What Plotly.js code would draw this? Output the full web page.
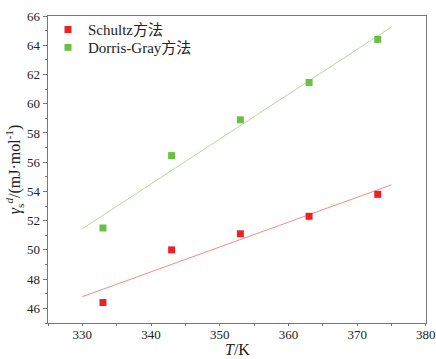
<!DOCTYPE html>
<html>
<head>
<meta charset="utf-8">
<script src="https://cdn.plot.ly/plotly-3.0.1.min.js"></script>
<style>html,body{margin:0;padding:0;background:#fff;}#chart{width:436px;height:359px;}</style>
</head>
<body>
<div id="chart"></div>
<script>
var temps = [333, 343, 353, 363, 373];
var schultz = [46.4, 50.0, 51.1, 52.3, 53.8];
var dorrisGray = [51.5, 56.45, 58.9, 61.45, 64.4];
var fitX = [330, 375];
var schultzFit = [46.8, 54.45];
var dorrisFit = [51.45, 65.25];
var seriesNames = ['Schultz方法', 'Dorris-Gray方法'];
var xTicks = [330, 340, 350, 360, 370, 380];
var yTicks = [46, 48, 50, 52, 54, 56, 58, 60, 62, 64, 66];

var fontFam = '"Liberation Serif", "Times New Roman", "Noto Sans CJK SC", serif';
var red = '#ee2024';
var green = '#6abf45';

var data = [
  {x: fitX, y: schultzFit, mode: 'lines', line: {color: '#f38b8b', width: 1}, showlegend: false, hoverinfo: 'skip'},
  {x: fitX, y: dorrisFit, mode: 'lines', line: {color: '#b5dc9c', width: 1}, showlegend: false, hoverinfo: 'skip'},
  {x: temps, y: schultz, mode: 'markers', name: seriesNames[0], legend: 'legend', marker: {symbol: 'square', size: 7, color: red}},
  {x: temps, y: dorrisGray, mode: 'markers', name: seriesNames[1], legend: 'legend2', marker: {symbol: 'square', size: 7, color: green}}
];

var axisCommon = {
  showgrid: false, zeroline: false, showline: true, linecolor: '#777', linewidth: 1.3, mirror: true,
  ticks: 'outside', ticklen: 4, tickcolor: '#777', tickwidth: 1,
  tickfont: {family: fontFam, size: 13, color: '#222'},
  ticklabeloverflow: 'allow'
};

var legendCommon = {
  xanchor: 'left', yanchor: 'middle', bgcolor: 'rgba(0,0,0,0)',
  font: {family: fontFam, size: 15, color: '#222'}, itemwidth: 30
};

var layout = {
  width: 436, height: 359,
  margin: {l: 48, r: 10, t: 16, b: 36},
  paper_bgcolor: '#fff', plot_bgcolor: '#fff',
  font: {family: fontFam, color: '#222'},
  showlegend: true,
  legend: Object.assign({}, legendCommon, {x: 0.0, y: 0.955}),
  legend2: Object.assign({}, legendCommon, {x: 0.0, y: 0.897}),
  xaxis: Object.assign({}, axisCommon, {
    range: [325, 380.02], tickmode: 'array', tickvals: xTicks,
    ticklen: 2, ticklabelstandoff: -3,
    minor: {ticks: 'outside', ticklen: 2, tickcolor: '#777', dtick: 5, tick0: 325}
  }),
  yaxis: Object.assign({}, axisCommon, {
    range: [45, 66], tickmode: 'array', tickvals: yTicks,
    minor: {ticks: 'outside', ticklen: 2, tickcolor: '#777', dtick: 1, tick0: 45},
    title: {text: '<i>γ</i><sub>s</sub><sup><i>d</i></sup>/(mJ·mol<sup>-1</sup>)', font: {family: fontFam, size: 16, color: '#222'}, standoff: 2}
  }),
  annotations: [
    {text: '<i>T</i>/K', xref: 'paper', yref: 'paper', x: 0.5, y: -0.117, xanchor: 'center', yanchor: 'bottom',
     showarrow: false, borderpad: 0, font: {family: fontFam, size: 16, color: '#222'}}
  ]
};

Plotly.newPlot('chart', data, layout, {displayModeBar: false, staticPlot: true});
</script>
</body>
</html>
